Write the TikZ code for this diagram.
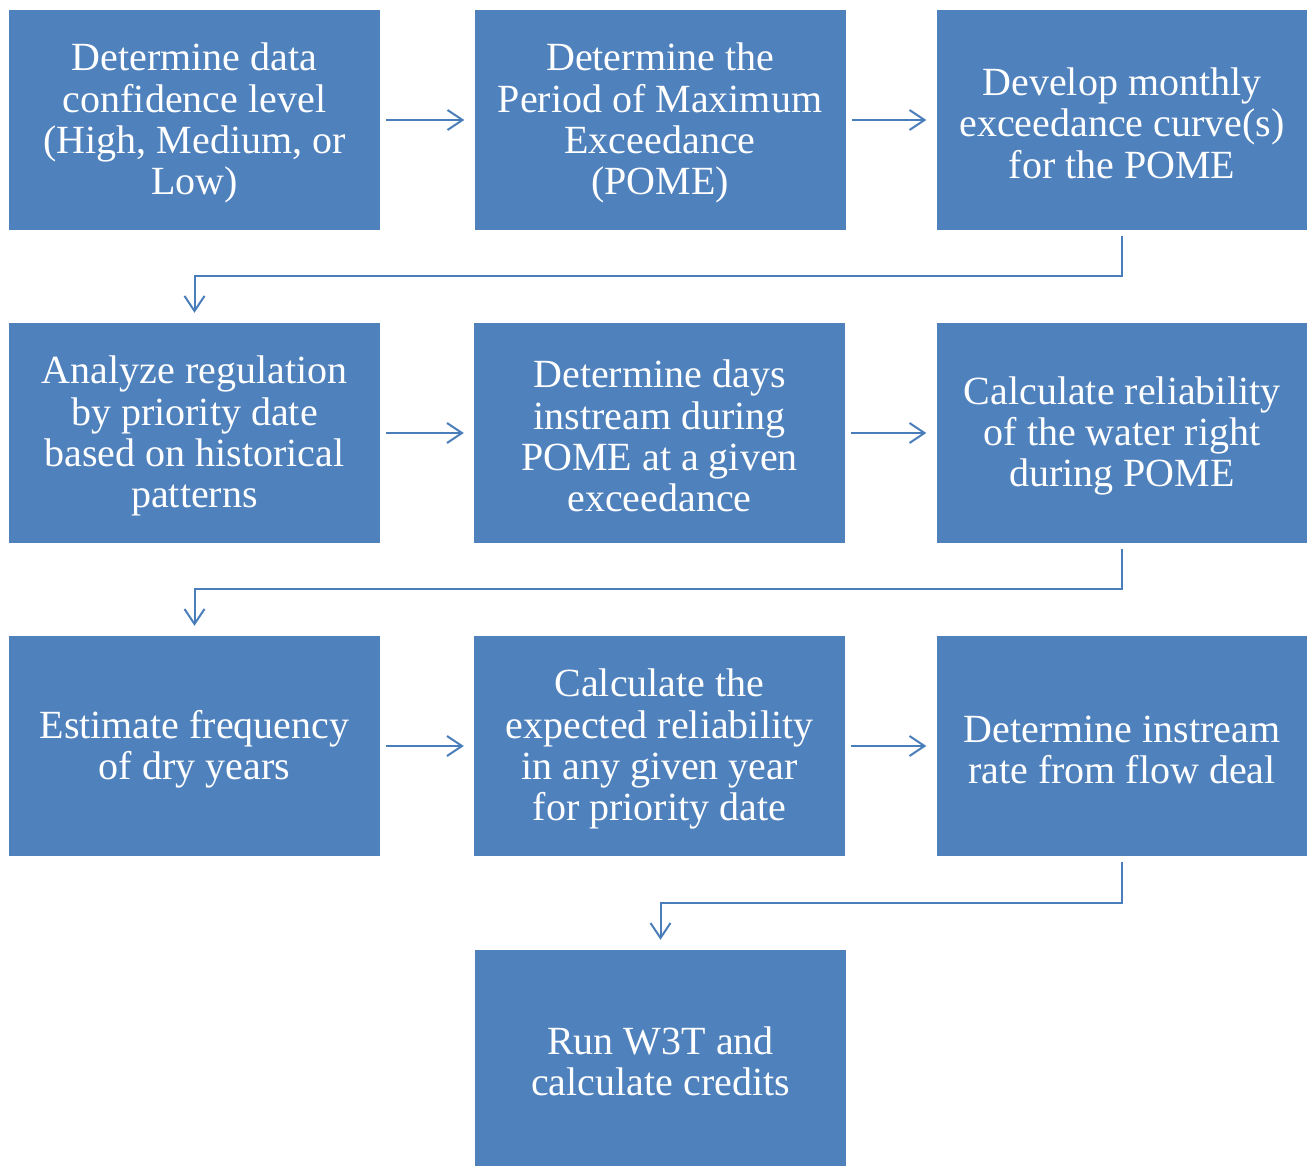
\documentclass[tikz,border=0pt]{standalone}
\usepackage{fontspec}
\setmainfont{Liberation Serif}
\usetikzlibrary{arrows.meta}
\definecolor{boxblue}{HTML}{4F81BD}
\definecolor{lineblue}{HTML}{4A7EBB}
\newcommand\tstrut{\rule{0pt}{34pt}}
\begin{document}
\begin{tikzpicture}[x=1pt,y=-1pt,
  stepbox/.style={rectangle, fill=boxblue, draw=none, text=white, inner sep=0pt,
    minimum width=371pt, minimum height=220pt, align=center,
    font=\fontsize{40}{41.3}\selectfont},
  conn/.style={draw=lineblue, line width=2pt,
    -{Straight Barb[length=15pt,width=20pt,line width=2pt]},
    shorten <=6pt, shorten >=10pt}]
\useasboundingbox (0,0) rectangle (1307,1166);
\node[stepbox] (a1) at (194.5,120) {\tstrut Determine data\\confidence level\\(High, Medium, or\\Low)};
\node[stepbox] (a2) at (660,120) {\tstrut Determine the\\Period of Maximum\\Exceedance\\(POME)};
\node[stepbox] (a3) at (1122,120) {\tstrut Develop monthly\\exceedance curve(s)\\for the POME};
\node[stepbox] (b1) at (194.5,433) {\tstrut Analyze regulation\\by priority date\\based on historical\\patterns};
\node[stepbox] (b2) at (659.5,433) {\tstrut Determine days\\instream during\\POME at a given\\exceedance};
\node[stepbox] (b3) at (1122,433) {\tstrut Calculate reliability\\of the water right\\during POME};
\node[stepbox] (c1) at (194.5,746) {\tstrut Estimate frequency\\of dry years};
\node[stepbox] (c2) at (659.5,746) {\tstrut Calculate the\\expected reliability\\in any given year\\for priority date};
\node[stepbox] (c3) at (1122,746) {\tstrut Determine instream\\rate from flow deal};
\node[stepbox, minimum height=216pt] (d1) at (660.5,1058) {\tstrut Run W3T and\\calculate credits};
\draw[conn] (a1) -- (a2);
\draw[conn] (a2) -- (a3);
\draw[conn] (b1) -- (b2);
\draw[conn] (b2) -- (b3);
\draw[conn] (c1) -- (c2);
\draw[conn] (c2) -- (c3);
\draw[conn] (a3.south) -- ([yshift=-46pt]a3.south) -| (b1.north);
\draw[conn] (b3.south) -- ([yshift=-46pt]b3.south) -| (c1.north);
\draw[conn] (c3.south) -- ([yshift=-47pt]c3.south) -| (d1.north);
\end{tikzpicture}
\end{document}
